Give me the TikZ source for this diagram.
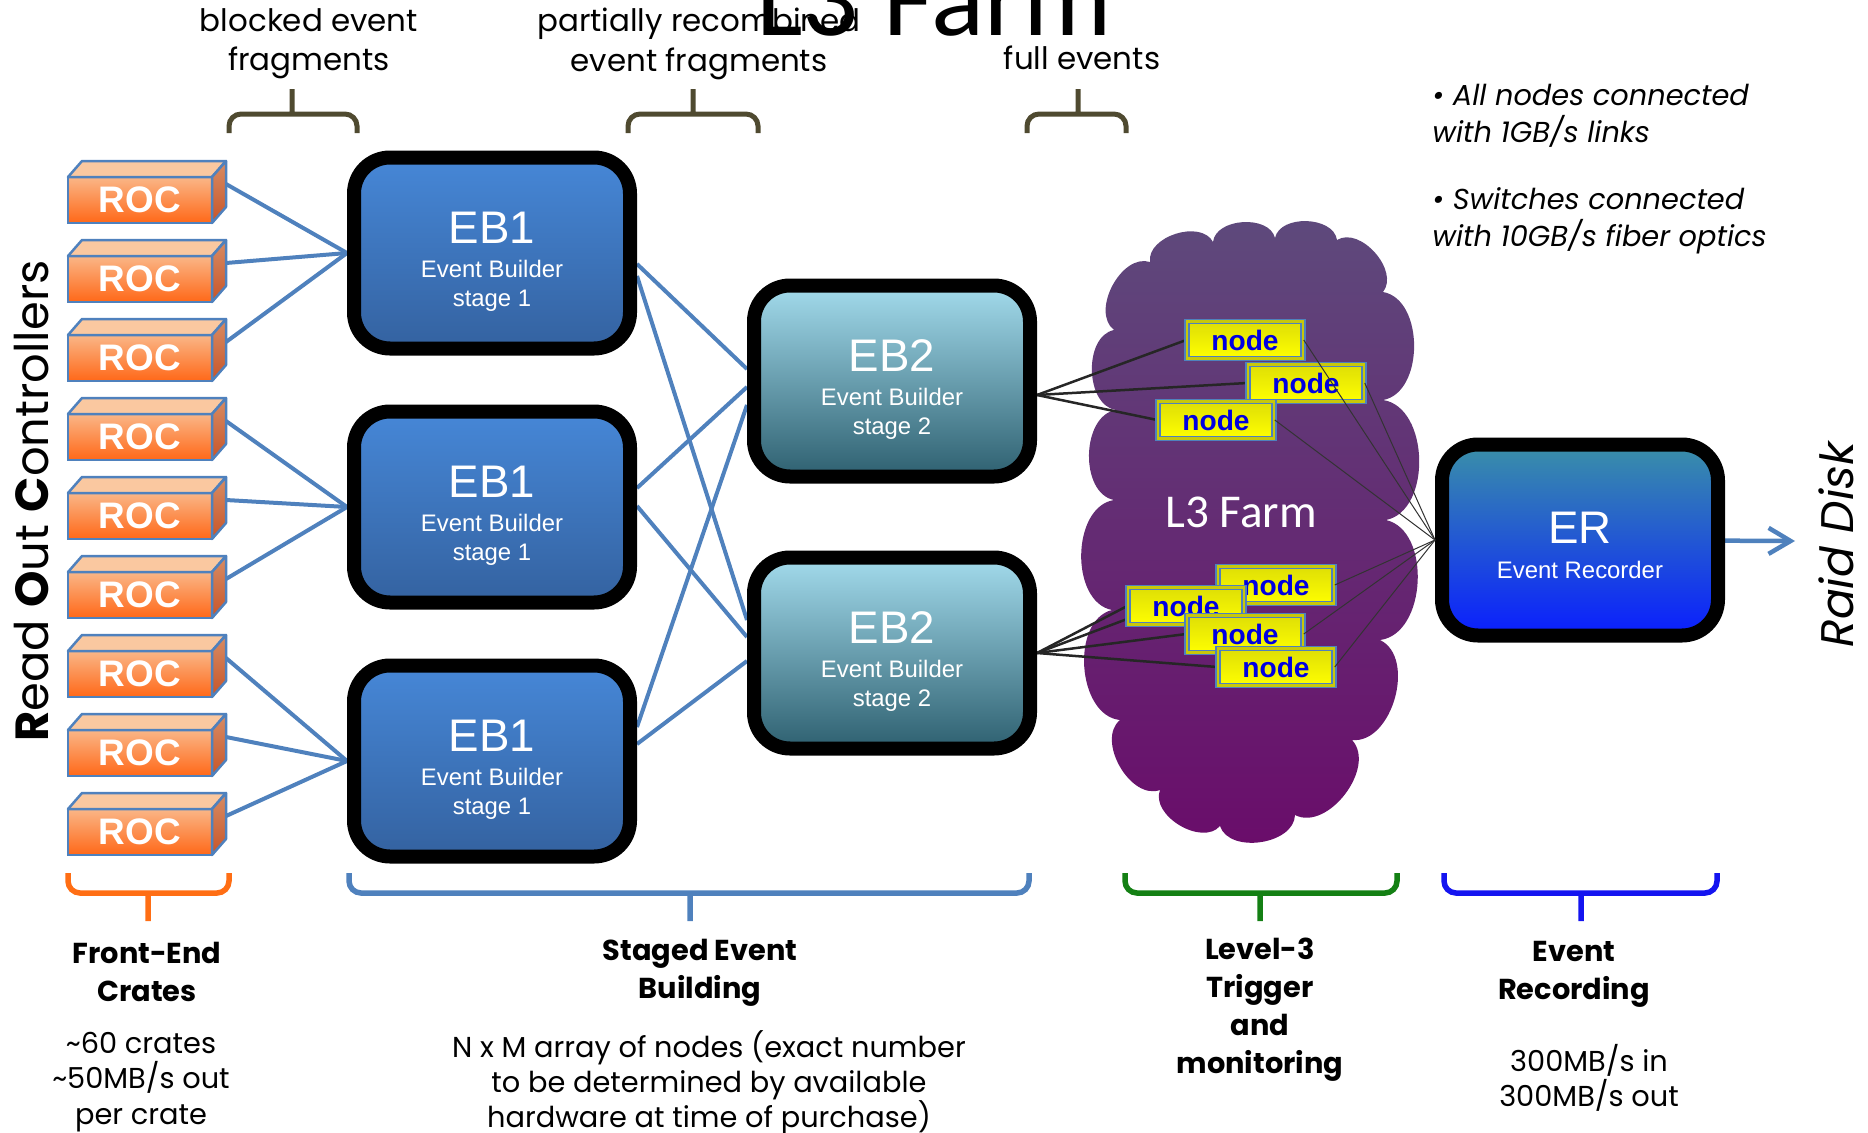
\documentclass[tikz,border=0pt]{standalone}
\usepackage{fontspec}
\setmainfont{Poppins}
\newfontfamily\arialfont{Liberation Sans}
\newfontfamily\calibrifont{Carlito}
\usetikzlibrary{arrows.meta,backgrounds}
\definecolor{SteelLink}{RGB}{79,129,189}
\definecolor{RocLight}{RGB}{250,182,135}
\definecolor{RocDark}{RGB}{255,104,24}
\definecolor{RocTop}{RGB}{250,200,160}
\definecolor{RocSide}{RGB}{215,140,100}
\definecolor{RocSideDark}{RGB}{200,85,40}
\definecolor{EbOneTop}{RGB}{70,135,215}
\definecolor{EbOneBottom}{RGB}{52,98,160}
\definecolor{EbTwoTop}{RGB}{163,219,236}
\definecolor{EbTwoBottom}{RGB}{46,96,112}
\definecolor{ErTop}{RGB}{58,144,168}
\definecolor{ErBottom}{RGB}{10,30,255}
\definecolor{CloudTop}{RGB}{94,74,124}
\definecolor{CloudBottom}{RGB}{106,12,106}
\definecolor{NodeYellow}{RGB}{255,255,0}
\definecolor{NodeOlive}{RGB}{200,200,10}
\definecolor{NodeText}{RGB}{0,0,225}
\definecolor{BraceOlive}{RGB}{79,74,48}
\definecolor{BraceOrange}{RGB}{255,110,20}
\definecolor{BraceGreen}{RGB}{20,128,20}
\definecolor{BraceBlue}{RGB}{20,20,240}
\tikzset{
  roc/.style={rectangle,draw=SteelLink,line width=0.25mm,top color=RocLight,
    bottom color=RocDark,minimum width=14.4mm,minimum height=4.6mm,
    inner sep=0pt,outer sep=0pt,text=white,
    font=\arialfont\bfseries\fontsize{10.5}{12}\selectfont},
  roctop/.style={fill=RocTop,draw=SteelLink,line width=0.25mm,line join=round},
  rocside/.style={top color=RocSide,bottom color=RocSideDark,draw=SteelLink,
    line width=0.25mm,line join=round},
  ebbox/.style={rectangle,rounded corners=3.6mm,draw=black,line width=1.4mm,
    minimum width=27.6mm,minimum height=19.1mm,inner sep=0pt,text=white,
    align=center,font=\arialfont\fontsize{6.8}{8.2}\selectfont},
  ebone/.style={ebbox,top color=EbOneTop,bottom color=EbOneBottom},
  ebtwo/.style={ebbox,top color=EbTwoTop,bottom color=EbTwoBottom},
  recorder/.style={ebbox,top color=ErTop,bottom color=ErBottom},
  farmcloud/.style={top color=CloudTop,bottom color=CloudBottom},
  puff/.style={bend left=80},
  farmnode/.style={rectangle,draw=SteelLink,double=NodeOlive,
    double distance=0.25mm,line width=0.15mm,top color=NodeOlive!60!NodeYellow,
    bottom color=NodeYellow,minimum width=11.6mm,minimum height=3.7mm,
    inner sep=0pt,text=NodeText,
    font=\arialfont\bfseries\fontsize{8}{9}\selectfont},
  link/.style={draw=SteelLink,line width=0.4mm},
  feed/.style={draw=black!85,line width=0.25mm},
  tap/.style={draw=black!80,line width=0.1mm},
  outlink/.style={draw=SteelLink,line width=0.45mm,
    -{Straight Barb[length=2.2mm,width=2.6mm]}},
  topbrace/.style={draw=BraceOlive,line width=0.5mm,rounded corners=1.2mm},
  botbrace/.style={draw=#1,line width=0.55mm,rounded corners=1.2mm},
  title/.style={font=\calibrifont\fontsize{31.5}{36}\selectfont},
  toplabel/.style={align=center,font=\fontsize{8.8}{11.2}\selectfont},
  heading/.style={align=center,font=\bfseries\fontsize{8.2}{10.8}\selectfont},
  detail/.style={align=center,font=\fontsize{8.2}{10}\selectfont},
  note/.style={align=left,anchor=west,font=\itshape\fontsize{8.2}{10.4}\selectfont}
}

\begin{document}
\begin{tikzpicture}[x=0.1mm,y=-0.1mm]
  \useasboundingbox (0,0) rectangle (1868,1133);

  % the farm cloud
  \begin{scope}[on background layer]
    \path[farmcloud] (1114,330) to[puff] (1150,262) to[puff] (1213,242)
      to[puff] (1275,238) to[puff] (1337,240) to[puff] (1383,292)
      to[puff] (1383,400) to[puff] (1386,520) to[puff] (1380,640)
      to[puff] (1352,740) to[puff] (1295,815) to[puff] (1220,826)
      to[puff] (1160,790) to[puff] (1120,720) to[puff] (1112,610)
      to[puff] (1114,500) to[puff] (1116,410) to[puff] (1114,330) -- cycle;
  \end{scope}

  \node[title,anchor=base] (title) at (934,35) {L3 Farm};

  % read out crates
  \foreach \i in {1,...,9} {
    \pgfmathsetmacro\yy{121+79*\i}
    \node[roc] (roc\i) at (140,\yy) {ROC};
    \path[roctop] (roc\i.north west) -- ++(14,-16) -- ++(144,0)
      -- (roc\i.north east) -- cycle;
    \path[rocside] (roc\i.north east) -- ++(14,-16) -- ++(0,46)
      -- (roc\i.south east) -- cycle;
    \coordinate (roc\i out) at (226,\yy-16);
  }
  \node[rotate=90,font=\fontsize{13.2}{16}\selectfont] (rolabel) at (32,501)
    {\textbf{R}ead \textbf{O}ut \textbf{C}ontrollers};

  % event builders
  \node[ebone] (eb1a) at (492,253)
    {\rule{0pt}{14pt}{\fontsize{13}{15}\selectfont EB1}\\[1.5pt]Event Builder\\stage 1};
  \node[ebone] (eb1b) at (492,507)
    {\rule{0pt}{14pt}{\fontsize{13}{15}\selectfont EB1}\\[1.5pt]Event Builder\\stage 1};
  \node[ebone] (eb1c) at (492,761)
    {\rule{0pt}{14pt}{\fontsize{13}{15}\selectfont EB1}\\[1.5pt]Event Builder\\stage 1};
  \node[ebtwo] (eb2a) at (892,381)
    {\rule{0pt}{14pt}{\fontsize{13}{15}\selectfont EB2}\\[1.5pt]Event Builder\\stage 2};
  \node[ebtwo] (eb2b) at (892,653)
    {\rule{0pt}{14pt}{\fontsize{13}{15}\selectfont EB2}\\[1.5pt]Event Builder\\stage 2};
  \node[recorder] (er) at (1580,540)
    {\rule{0pt}{12pt}{\fontsize{13}{15}\selectfont ER}\\[1.8pt]Event Recorder};

  % farm
  \node[text=white,font=\calibrifont\fontsize{13.4}{16}\selectfont] (farmlabel)
    at (1241,512) {L3 Farm};
  \node[farmnode] (hostA1) at (1245,340) {node};
  \node[farmnode] (hostA2) at (1306,383) {node};
  \node[farmnode] (hostA3) at (1216,420) {node};
  \node[farmnode] (hostB1) at (1276,585) {node};
  \node[farmnode] (hostB2) at (1186,606) {node};
  \node[farmnode] (hostB3) at (1245,634) {node};
  \node[farmnode] (hostB4) at (1276,667) {node};

  \begin{scope}[on background layer]
    \foreach \i/\e in {1/a,2/a,3/a,4/b,5/b,6/b,7/c,8/c,9/c}
      \draw[link] (roc\i out) -- (eb1\e.west);
    \foreach \a/\sa/\b/\sb in {a/-1.1/a/1.2,a/-2.3/b/3.3,b/1.9/a/-0.6,
        b/0.1/b/1.6,c/3.4/a/-2.4,c/1.7/b/-0.8}
      \draw[link] ([yshift=\sa mm]eb1\a.east) -- ([yshift=\sb mm]eb2\b.west);
    \foreach \t in {hostA1,hostA2,hostA3}
      \draw[feed] ([yshift=-1.4mm]eb2a.east) -- (\t.west);
    \foreach \t in {hostB1,hostB2,hostB3,hostB4}
      \draw[feed] (eb2b.east) -- (\t.west);
    \coordinate (diskin) at (1795,541);
    \draw[outlink] (er) -- (diskin);
  \end{scope}
  \foreach \t in {hostA1,hostA2,hostA3,hostB1,hostB3,hostB4}
    \draw[tap] (\t.east) -- (er.west);

  \node[rotate=90,font=\itshape\fontsize{13}{15}\selectfont] (raid) at (1836,545)
    {Raid Disk};

  % braces and captions
  \foreach \l/\m/\r in {229/292/357,628/693/758,1027/1078/1126}
    \draw[topbrace] (\l,133) -- (\l,114) -- (\r,114) -- (\r,133) (\m,114) -- (\m,89);
  \foreach \l/\m/\r/\c in {68/148/229/BraceOrange,349/690/1029/SteelLink,
      1125/1260/1397/BraceGreen,1444/1581/1717/BraceBlue}
    \draw[botbrace=\c] (\l,873) -- (\l,893) -- (\r,893) -- (\r,873) (\m,893) -- (\m,921);

  \node[toplabel] (blocked) at (309,44) {blocked event\\fragments};
  \node[toplabel] (partial) at (699,44) {partially recombined\\event fragments};
  \node[toplabel] (full) at (1082,58) {full events};

  \node[note] (links) at (1420,116) {\textbullet\ All nodes connected\\with 1GB/s links};
  \node[note] (fiber) at (1420,221) {\textbullet\ Switches connected\\with 10GB/s fiber optics};

  \node[heading] (crates) at (147,972) {Front-End\\Crates};
  \node[heading] (staged) at (700,973) {Staged Event\\Building};
  \node[heading] (level3) at (1260,1010) {Level-3\\Trigger\\and\\monitoring};
  \node[heading] (record) at (1574,974) {Event\\Recording};
  \node[detail] (cratenum) at (141,1082)
    {\textasciitilde60 crates\\\textasciitilde50MB/s out\\per crate};
  \node[detail] (array) at (709,1083)
    {N x M array of nodes (exact number\\to be determined by available\\hardware at time of purchase)};
  \node[detail] (rate) at (1589,1078) {300MB/s in\\300MB/s out};
\end{tikzpicture}
\end{document}
